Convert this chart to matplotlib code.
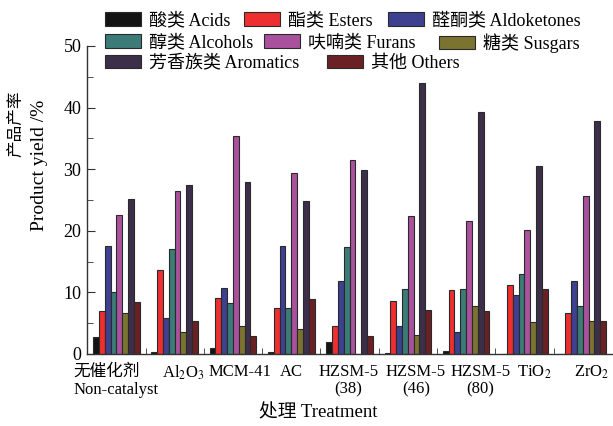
import numpy as np
import matplotlib
matplotlib.use("Agg")
import matplotlib.pyplot as plt
from matplotlib.patches import Rectangle

plt.rcParams["font.family"] = ["Liberation Serif", "Noto Sans CJK SC"]
plt.rcParams["mathtext.fontset"] = "stix"

treatments = [
    "无催化剂\nNon-catalyst",
    "Al$_2$O$_3$",
    "MCM-41",
    "AC",
    "HZSM-5\n(38)",
    "HZSM-5\n(46)",
    "HZSM-5\n(80)",
    "TiO$_2$",
    "ZrO$_2$",
]
series_names = [
    "酸类 Acids",
    "酯类 Esters",
    "醛酮类 Aldoketones",
    "醇类 Alcohols",
    "呋喃类 Furans",
    "糖类 Susgars",
    "芳香族类 Aromatics",
    "其他 Others",
]
acids = [2.8, 0.4, 1.0, 0.3, 1.9, 0.2, 0.5, 0.0, 0.0]
esters = [7.0, 13.6, 9.1, 7.5, 4.6, 8.6, 10.4, 11.2, 6.7]
aldoketones = [17.6, 5.9, 10.7, 17.6, 11.9, 4.5, 3.5, 9.6, 11.8]
alcohols = [10.0, 17.1, 8.3, 7.4, 17.4, 10.6, 10.6, 13.0, 7.8]
furans = [22.6, 26.5, 35.4, 29.4, 31.5, 22.4, 21.6, 20.2, 25.6]
sugars = [6.6, 3.6, 4.5, 4.1, 0.0, 3.1, 7.8, 5.2, 5.4]
aromatics = [25.2, 27.5, 28.0, 24.9, 29.9, 44.0, 39.3, 30.6, 37.9]
others = [8.5, 5.4, 3.0, 8.9, 2.9, 7.2, 7.0, 10.6, 5.3]

colors = ["#141414", "#ee2f30", "#3d418f", "#3b7b78",
          "#a9519c", "#7b7431", "#3d2f4a", "#6b2023"]

series = [acids, esters, aldoketones, alcohols, furans, sugars, aromatics, others]
fs = 13

fig = plt.figure(figsize=(6.13, 4.26), dpi=100)
ax = fig.add_axes([87 / 613, 1 - 354 / 426, 1 - 87 / 613, (354 - 46) / 426])

x = np.arange(len(treatments))
w = 0.1
for k, vals in enumerate(series):
    ax.bar(x + (k - 3.5) * w, vals, w, color=colors[k],
           edgecolor="#2a2a2a", linewidth=0.8, label=series_names[k])

ax.set_xlim(-0.504, 8.52)
ax.set_ylim(0, 50)
for s in ["top", "right"]:
    ax.spines[s].set_visible(False)
for s in ["left", "bottom"]:
    ax.spines[s].set_color("#333333")
    ax.spines[s].set_linewidth(1.0)

ax.set_yticks(np.arange(0, 51, 10))
ax.set_yticks(np.arange(5, 50, 10), minor=True)
ax.tick_params(axis="y", which="major", direction="in", length=6, labelsize=fs,
               color="#333333", pad=4)
ax.tick_params(axis="y", which="minor", direction="in", length=4, color="#333333")

# label shift in px, reference labels sit a little right of group centres
label_shift = [0, 9, 7, 0, -1, 8, 14, 10, 9]
ax.set_xticks(x + np.array(label_shift) / 58.3)
ax.set_xticklabels(treatments, fontsize=12, linespacing=1.15)
ax.set_xticks(np.arange(0.5, 8.5, 1), minor=True)
ax.tick_params(axis="x", which="major", length=0, pad=7)
ax.tick_params(axis="x", which="minor", direction="in", length=4, color="#333333")
ax.get_xticklabels()[0].set_multialignment("left")

fig.text(318 / 613, 1 - 413 / 426, "处理 Treatment", fontsize=13.5,
         ha="center", va="center")
fig.text(16 / 613, 1 - 124 / 426, "产品产率", fontsize=12, rotation=90,
         ha="center", va="center")
fig.text(40 / 613, 1 - 165 / 426, "Product yield /%", fontsize=14, rotation=90,
         ha="center", va="center")

# legend items placed as in the reference (handle left x px, row)
slots = [(105, 0), (244, 0), (388, 0), (105, 1), (264, 1), (439, 1), (105, 2), (327, 2)]
row_y = [20.7, 42.7, 63.3]
for k, (px, row) in enumerate(slots):
    h = Rectangle((0, 0), 1, 1, facecolor=colors[k], edgecolor="#2a2a2a", linewidth=0.8)
    fig.legend([h], [series_names[k]], loc="center left",
               bbox_to_anchor=(px / 613, 1 - row_y[row] / 426),
               frameon=False, borderpad=0, borderaxespad=0,
               handlelength=2.0, handleheight=0.75, handletextpad=0.45,
               fontsize=fs)

fig.savefig("out.png", dpi=100)
